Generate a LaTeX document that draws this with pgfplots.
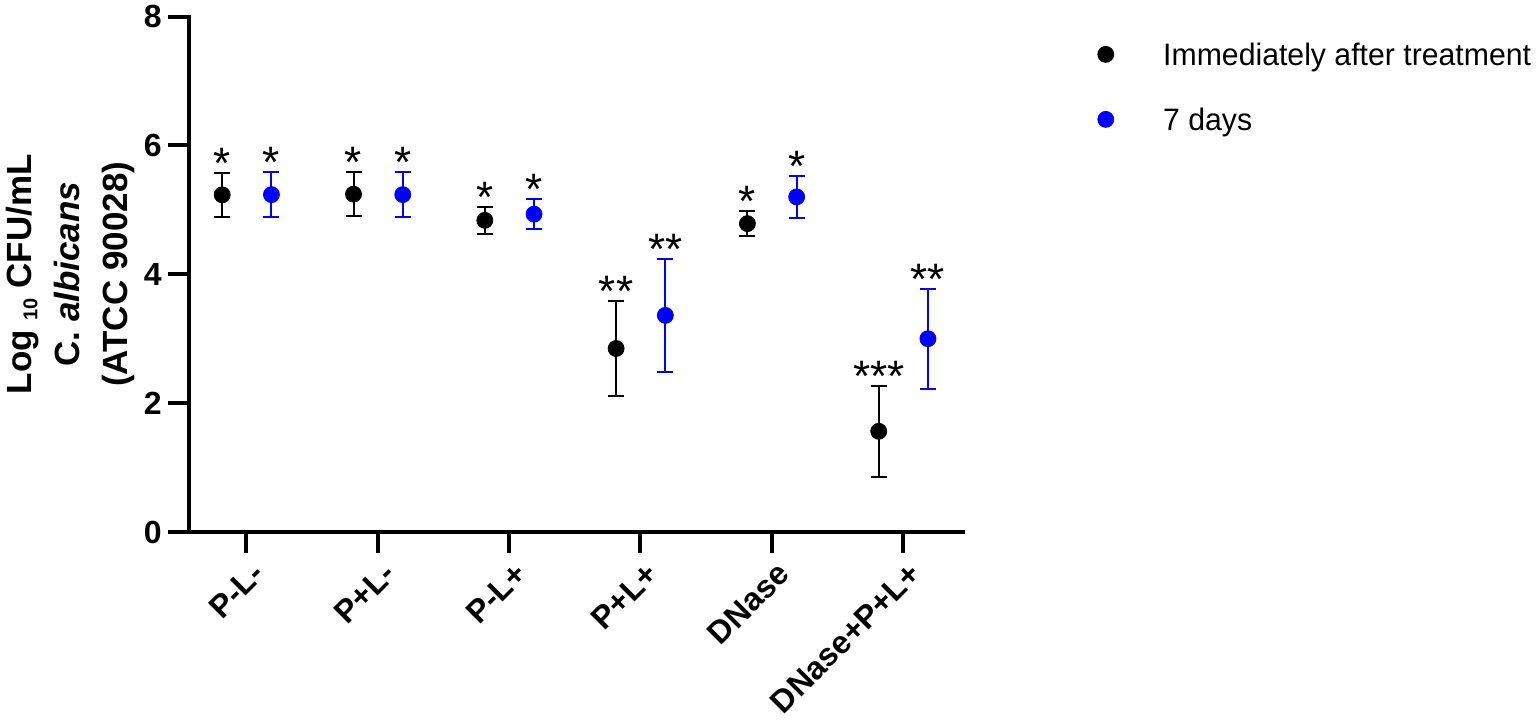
\documentclass[border=0pt]{standalone}
\usepackage{fontspec}
\setmainfont{Liberation Sans}
\newfontfamily\legendfont[FakeStretch=0.975]{Liberation Sans}
\usepackage{pgfplots}
\usepackage{pgfplotstable}
\pgfplotsset{compat=1.18}
\definecolor{dayblue}{RGB}{0,0,255}

\pgfplotstableread{
x y e s
-0.184 5.233 0.345 *
0.816 5.243 0.343 *
1.816 4.837 0.206 *
2.816 2.848 0.739 **
3.816 4.786 0.192 *
4.816 1.563 0.705 ***
}\immtab
\pgfplotstableread{
x y e s
0.191 5.236 0.345 *
1.191 5.236 0.345 *
2.191 4.933 0.235 *
3.191 3.362 0.881 **
4.191 5.201 0.329 *
5.191 3.000 0.778 **
}\daytab

\begin{document}
\begin{tikzpicture}
\useasboundingbox (-94.5pt,-93.5pt) rectangle (673.5pt,266pt);
\begin{axis}[
  scale only axis, width=387pt, height=257.75pt,
  clip=false,
  xmin=-0.437, xmax=5.458, ymin=0, ymax=8,
  axis x line*=bottom, axis y line*=left,
  axis line style={line width=2pt, line cap=rect, black},
  xtick={0,...,5},
  xticklabels={P-L-,P+L-,P-L+,P+L+,DNase,DNase+P+L+},
  ytick={0,2,4,6,8},
  minor tick num=0,
  tick align=outside, major tick length=10.5pt,
  tick style={line width=2pt, black},
  /pgf/number format/assume math mode=true,
  ticklabel style={font=\fontsize{16}{19}\selectfont\bfseries},
  xticklabel style={rotate=45, anchor=north east, inner sep=0pt, yshift=-4pt, xshift=-1pt},
  yticklabel style={inner sep=3pt},
  ylabel={Log \raisebox{-3pt}{\fontsize{10}{10}\selectfont 10} CFU/mL\\C. \textit{albicans}\\(ATCC 90028)},
  ylabel style={at={([xshift=-27pt]axis description cs:0,0.5)}, anchor=south, align=center, inner sep=0pt, font=\fontsize{17.5}{24}\selectfont\bfseries},
  legend style={at={(axis description cs:1.1731,0.951)}, anchor=north west, draw=none, fill=none, inner sep=0pt, row sep=17.5pt, column sep=24.5pt, font=\legendfont\fontsize{15.5}{18}\selectfont, nodes={inner sep=0pt, text height=11.5pt, text depth=3.5pt}},
  legend cell align=left,
]
\addplot[only marks, mark=*, mark size=4pt, black,
  legend image code/.code={\fill[black] (0pt,1.4pt) circle (4pt);},
  error bars/.cd, y dir=both, y explicit,
  error bar style={line width=1pt, black},
  error mark=-, error mark options={rotate=90, mark size=4pt, line width=1pt, black}]
  table[x=x, y=y, y error=e] {\immtab};
\addlegendentry{Immediately after treatment}
\addplot[only marks, mark=*, mark size=4pt, dayblue,
  legend image code/.code={\fill[dayblue] (0pt,1.4pt) circle (4pt);},
  error bars/.cd, y dir=both, y explicit,
  error bar style={line width=1pt, dayblue},
  error mark=-, error mark options={rotate=90, mark size=4pt, line width=1pt, dayblue}]
  table[x=x, y=y, y error=e] {\daytab};
\addlegendentry{7 days}
\addplot[draw=none, forget plot, nodes near coords, point meta=explicit symbolic,
  nodes near coords align={anchor=base},
  every node near coord/.append style={yshift=-2.8pt, inner sep=0pt, font=\fontsize{22}{24}\selectfont, black}]
  table[x=x, y expr=\thisrow{y}+\thisrow{e}, meta=s] {\immtab};
\addplot[draw=none, forget plot, nodes near coords, point meta=explicit symbolic,
  nodes near coords align={anchor=base},
  every node near coord/.append style={yshift=-2.8pt, inner sep=0pt, font=\fontsize{22}{24}\selectfont, black}]
  table[x=x, y expr=\thisrow{y}+\thisrow{e}, meta=s] {\daytab};
\end{axis}
\end{tikzpicture}
\end{document}
